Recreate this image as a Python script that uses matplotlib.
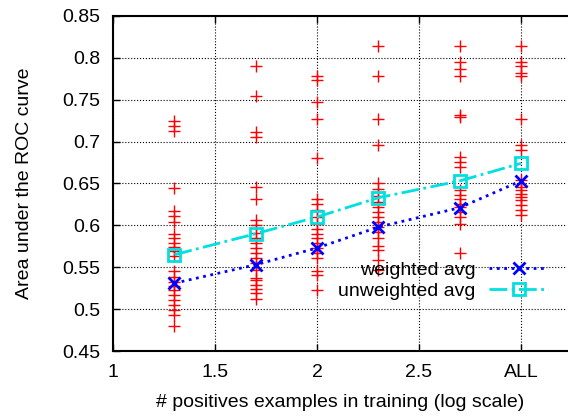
import numpy as np
import matplotlib
matplotlib.use('Agg')
import matplotlib.pyplot as plt

plt.rcParams['font.family'] = ['Liberation Sans', 'DejaVu Sans']

# x positions: log10 of #positives, last one is "ALL"
x_pos = [1.301, 1.699, 2.0, 2.301, 2.699, 3.0]

# individual runs (red pluses)
auc_runs = [
    [0.724, 0.719, 0.712, 0.645, 0.617, 0.611, 0.604, 0.590, 0.585, 0.579, 0.574, 0.569,
     0.563, 0.545, 0.539, 0.533, 0.528, 0.523, 0.517, 0.511, 0.505, 0.499, 0.493, 0.480],
    [0.790, 0.754, 0.711, 0.706, 0.646, 0.631, 0.607, 0.601, 0.591, 0.585, 0.579, 0.573,
     0.567, 0.561, 0.555, 0.547, 0.537, 0.535, 0.529, 0.524, 0.519, 0.512],
    [0.778, 0.774, 0.747, 0.727, 0.680, 0.632, 0.626, 0.618, 0.610, 0.602, 0.596, 0.590,
     0.585, 0.579, 0.573, 0.567, 0.561, 0.545, 0.541, 0.523],
    [0.814, 0.778, 0.727, 0.696, 0.651, 0.643, 0.635, 0.628, 0.622, 0.616, 0.610, 0.604,
     0.598, 0.592, 0.585, 0.575, 0.571, 0.559, 0.547],
    [0.814, 0.795, 0.786, 0.778, 0.732, 0.729, 0.682, 0.676, 0.670, 0.642, 0.636, 0.632,
     0.626, 0.622, 0.616, 0.610, 0.602, 0.567],
    [0.814, 0.795, 0.790, 0.782, 0.778, 0.727, 0.696, 0.690, 0.654, 0.646, 0.642, 0.638,
     0.634, 0.630, 0.624, 0.618, 0.612],
]

weighted_avg = [0.531, 0.553, 0.573, 0.598, 0.621, 0.653]
unweighted_avg = [0.565, 0.590, 0.610, 0.633, 0.653, 0.674]

xticks = [1, 1.5, 2, 2.5, 3]
xtick_labels = ['1', '1.5', '2', '2.5', 'ALL']
yticks = [0.45, 0.5, 0.55, 0.6, 0.65, 0.7, 0.75, 0.8, 0.85]
ytick_labels = ['0.45', '0.5', '0.55', '0.6', '0.65', '0.7', '0.75', '0.8', '0.85']

fs = 14

fig = plt.figure(figsize=(5.68, 4.16), dpi=100)
ax = fig.add_axes([0.199, 0.156, 0.799, 0.806])

for xv, ys in zip(x_pos, auc_runs):
    ax.plot([xv] * len(ys), ys, '+', color='red', markersize=8, mew=1, zorder=3)

ax.plot(x_pos, weighted_avg, ':', color='blue', lw=2, marker='x',
        markersize=8, mew=2, label='weighted avg', zorder=5)
ax.plot(x_pos, unweighted_avg, '-.', color='#00e0e0', lw=2, marker='s',
        markersize=9, mew=2, markerfacecolor='none', label='unweighted avg', zorder=4)

ax.set_xlim(1, 3.225)
ax.set_ylim(0.45, 0.85)
ax.set_xticks(xticks)
ax.set_xticklabels(xtick_labels)
ax.set_yticks(yticks)
ax.set_yticklabels(ytick_labels)
ax.tick_params(direction='in', length=5, width=1, labelsize=fs, top=True, right=False, pad=9)
ax.grid(True, color='black', linestyle=':', linewidth=0.8)
ax.set_axisbelow(True)
for side in ['left', 'bottom', 'top']:
    ax.spines[side].set_linewidth(1.5)
ax.spines['right'].set_visible(False)

ax.set_xlabel('# positives examples in training (log scale)', fontsize=fs, labelpad=10)
ax.set_ylabel('Area under the ROC curve', fontsize=fs, labelpad=21)

leg = ax.legend(loc='upper right', bbox_to_anchor=(0.958, 0.267), frameon=False,
                fontsize=fs, markerfirst=False, handlelength=3.0,
                handletextpad=0.7, labelspacing=0.15, borderpad=0, borderaxespad=0)
for t in leg.get_texts():
    t.set_ha('right')

fig.savefig('out.png', dpi=100)
